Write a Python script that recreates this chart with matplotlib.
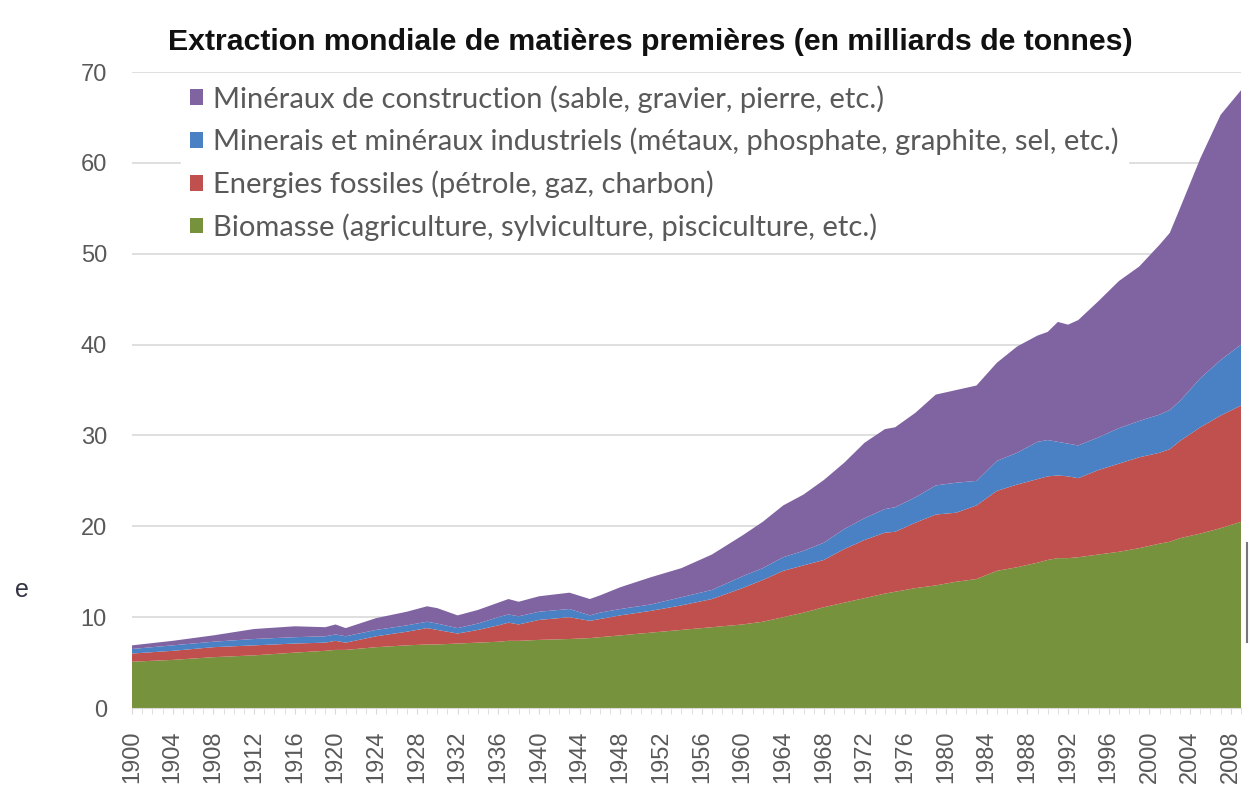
"""Extraction mondiale de matières premières, aires empilées 1900-2009."""

import matplotlib

matplotlib.use("Agg")

import matplotlib.pyplot as plt
from matplotlib.lines import Line2D
from matplotlib.patches import Patch


YEARS = [
    1900, 1904, 1908, 1912, 1916, 1919, 1920, 1921, 1924, 1927, 1929, 1930,
    1932, 1934, 1936, 1937, 1938, 1940, 1943, 1945, 1946, 1948, 1951, 1954,
    1957, 1960, 1962, 1964, 1966, 1968, 1970, 1972, 1974, 1975, 1977, 1979,
    1981, 1983, 1985, 1987, 1989, 1990, 1991, 1992, 1993, 1995, 1997, 1999,
    2001, 2002, 2003, 2005, 2007, 2009,
]
BIOMASSE = [
    5.1, 5.3, 5.6, 5.8, 6.1, 6.3, 6.4, 6.4, 6.7, 6.9, 7.0, 7.0,
    7.1, 7.2, 7.3, 7.4, 7.4, 7.5, 7.6, 7.7, 7.8, 8.0, 8.3, 8.6,
    8.9, 9.2, 9.5, 10.0, 10.5, 11.1, 11.6, 12.1, 12.6, 12.8, 13.2, 13.5,
    13.9, 14.2, 15.1, 15.5, 16.0, 16.3, 16.5, 16.5, 16.6, 16.9, 17.2, 17.6,
    18.1, 18.3, 18.7, 19.2, 19.8, 20.5,
]
FOSSILES = [
    0.9, 1.0, 1.1, 1.1, 1.0, 0.9, 1.0, 0.8, 1.2, 1.5, 1.8, 1.6,
    1.1, 1.4, 1.8, 2.0, 1.8, 2.2, 2.4, 1.9, 2.0, 2.2, 2.4, 2.7,
    3.1, 4.0, 4.6, 5.1, 5.2, 5.2, 5.9, 6.4, 6.7, 6.6, 7.2, 7.8,
    7.6, 8.1, 8.8, 9.1, 9.2, 9.2, 9.1, 9.0, 8.7, 9.3, 9.7, 10.0,
    10.0, 10.2, 10.7, 11.7, 12.4, 12.8,
]
MINERAIS = [
    0.5, 0.6, 0.6, 0.7, 0.7, 0.7, 0.7, 0.7, 0.7, 0.7, 0.7, 0.7,
    0.6, 0.7, 0.9, 0.9, 0.9, 0.9, 0.9, 0.6, 0.7, 0.7, 0.7, 0.9,
    1.0, 1.3, 1.3, 1.5, 1.6, 1.9, 2.2, 2.4, 2.6, 2.7, 2.8, 3.2,
    3.3, 2.7, 3.3, 3.5, 4.1, 4.0, 3.7, 3.6, 3.6, 3.6, 3.9, 4.0,
    4.2, 4.3, 4.4, 5.4, 6.1, 6.7,
]
CONSTRUCTION = [
    0.4, 0.5, 0.7, 1.1, 1.2, 1.0, 1.1, 0.9, 1.3, 1.5, 1.7, 1.7,
    1.4, 1.5, 1.6, 1.7, 1.6, 1.7, 1.8, 1.8, 1.9, 2.4, 3.0, 3.2,
    3.9, 4.5, 5.1, 5.7, 6.2, 6.9, 7.3, 8.3, 8.8, 8.8, 9.3, 10.0,
    10.2, 10.5, 10.8, 11.7, 11.7, 11.9, 13.2, 13.1, 13.8, 15.0, 16.2, 17.0,
    18.7, 19.5, 21.2, 24.2, 27.0, 28.0,
]

LABELS = [
    "Minéraux de construction (sable, gravier, pierre, etc.)",
    "Minerais et minéraux industriels (métaux, phosphate, graphite, sel, etc.)",
    "Energies fossiles (pétrole, gaz, charbon)",
    "Biomasse (agriculture, sylviculture, pisciculture, etc.)",
]
COLORS = {
    "construction": "#8064a2",
    "minerais": "#4a81c4",
    "fossiles": "#c0504d",
    "biomasse": "#76923c",
}
TICK_YEARS = list(range(1900, 2009, 4))

TEXT_GREY = "#595959"


def main() -> None:
    fig = plt.figure(figsize=(12.5, 7.92), dpi=100)
    ax = fig.add_axes([0.1056, 0.106, 0.8872, 0.803])

    ax.stackplot(
        YEARS,
        BIOMASSE,
        FOSSILES,
        MINERAIS,
        CONSTRUCTION,
        colors=[
            COLORS["biomasse"],
            COLORS["fossiles"],
            COLORS["minerais"],
            COLORS["construction"],
        ],
        linewidth=0,
        zorder=2,
    )

    ax.set_xlim(1900, 2009)
    ax.set_ylim(0, 70)
    ax.set_yticks(range(0, 71, 10))
    ax.grid(axis="y", color="#d9d9d9", linewidth=1.2, zorder=0)
    ax.set_axisbelow(True)
    for side in ("top", "right", "left"):
        ax.spines[side].set_visible(False)
    ax.spines["bottom"].set_color("#d9d9d9")

    ax.set_xticks(TICK_YEARS)
    ax.set_xticklabels([str(y) for y in TICK_YEARS], rotation=90)
    ax.set_xticks(range(1900, 2010), minor=True)
    ax.tick_params(axis="x", which="both", length=4, color="#d9d9d9",
                   labelsize=17, labelcolor=TEXT_GREY, pad=12)
    ax.tick_params(axis="y", length=0, labelsize=17, labelcolor=TEXT_GREY, pad=18)
    for label in ax.get_xticklabels() + ax.get_yticklabels():
        label.set_family(["Liberation Sans", "DejaVu Sans"])

    handles = [
        Patch(facecolor=COLORS["construction"]),
        Patch(facecolor=COLORS["minerais"]),
        Patch(facecolor=COLORS["fossiles"]),
        Patch(facecolor=COLORS["biomasse"]),
    ]
    legend = ax.legend(
        handles,
        LABELS,
        loc="upper left",
        bbox_to_anchor=(0.1334, 0.922),
        bbox_transform=fig.transFigure,
        frameon=True,
        fancybox=False,
        edgecolor="white",
        facecolor="white",
        framealpha=1.0,
        handlelength=0.45,
        handleheight=0.45,
        handletextpad=0.35,
        labelspacing=0.52,
        borderpad=0.3,
        prop={"family": ["Lato", "DejaVu Sans"], "size": 21},
    )
    for text in legend.get_texts():
        text.set_color(TEXT_GREY)

    fig.text(0.52, 0.947, "Extraction mondiale de matières premières (en milliards de tonnes)",
             ha="center", va="center", fontsize=21.8, fontweight="bold",
             family=["Liberation Sans", "DejaVu Sans"], color="#111111")

    fig.text(0.012, 0.255, "e", fontsize=18, color="#333344",
             family=["Liberation Sans", "DejaVu Sans"], va="center")
    fig.add_artist(Line2D([0.9976, 0.9976], [0.19, 0.315], transform=fig.transFigure,
                          color="#777777", linewidth=1.5))

    fig.savefig("out.png", dpi=100)
    plt.close(fig)


if __name__ == "__main__":
    main()
